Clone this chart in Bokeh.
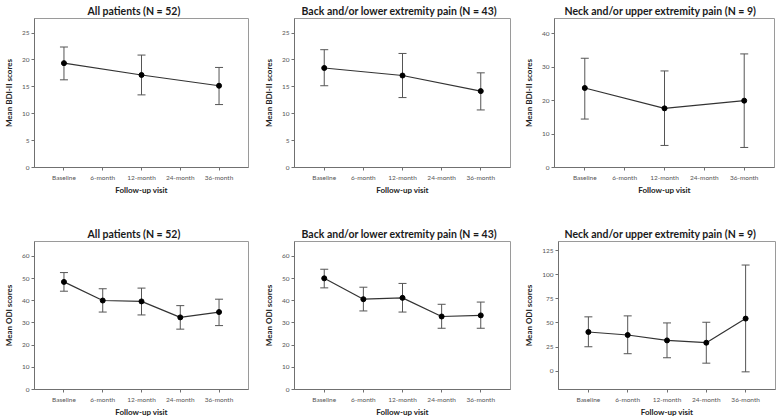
from bokeh.plotting import figure
from bokeh.models import ColumnDataSource, Whisker, TeeHead, FactorRange, Range1d, FixedTicker
from bokeh.layouts import row, column
from bokeh.embed import file_html
from bokeh.resources import INLINE

# ---------------- data ----------------
visits = ["Baseline", "6-month", "12-month", "24-month", "36-month"]
bdi_visits = ["Baseline", "12-month", "36-month"]
odi_visits = ["Baseline", "6-month", "12-month", "24-month", "36-month"]

bdi_all_mean = [19.4, 17.2, 15.2]
bdi_all_lower = [16.3, 13.5, 11.7]
bdi_all_upper = [22.4, 20.9, 18.6]

bdi_back_mean = [18.5, 17.1, 14.2]
bdi_back_lower = [15.2, 13.0, 10.7]
bdi_back_upper = [21.9, 21.2, 17.6]

bdi_neck_mean = [23.8, 17.7, 20.0]
bdi_neck_lower = [14.5, 6.6, 6.0]
bdi_neck_upper = [32.7, 28.9, 34.0]

odi_all_mean = [48.5, 40.1, 39.7, 32.5, 34.9]
odi_all_lower = [44.3, 34.9, 33.6, 27.2, 28.8]
odi_all_upper = [52.7, 45.4, 45.7, 37.8, 40.7]

odi_back_mean = [50.1, 40.7, 41.3, 32.9, 33.4]
odi_back_lower = [45.8, 35.4, 34.9, 27.6, 27.6]
odi_back_upper = [54.2, 46.1, 47.8, 38.4, 39.4]

odi_neck_mean = [40.6, 37.5, 31.9, 29.5, 54.5]
odi_neck_lower = [25.3, 18.1, 13.9, 8.3, -0.7]
odi_neck_upper = [56.3, 57.3, 50.0, 50.7, 110.0]

title_all = "All patients (N = 52)"
title_back = "Back and/or lower extremity pain (N = 43)"
title_neck = "Neck and/or upper extremity pain (N = 9)"
xlabel = "Follow-up visit"
ylabel_bdi = "Mean BDI-II scores"
ylabel_odi = "Mean ODI scores"

bdi_ticks_small = [0, 5, 10, 15, 20, 25]
bdi_ticks_neck = [0, 10, 20, 30, 40]
odi_ticks = [0, 10, 20, 30, 40, 50, 60]
odi_ticks_neck = [0, 25, 50, 75, 100, 125]

FONT = "Lato"


def make_panel(title, ylabel, xs, mean, lower, upper, yrange, ticks,
               w, h, bl, br, bt, bb, toff):
    p = figure(width=w, height=h,
               x_range=FactorRange(factors=visits, range_padding=0.26,
                                   range_padding_units="absolute"),
               y_range=Range1d(*yrange),
               output_backend="svg", toolbar_location=None,
               min_border_left=bl, min_border_right=br,
               min_border_top=bt, min_border_bottom=bb,
               title=title)
    p.background_fill_color = "white"
    p.border_fill_color = "white"
    p.outline_line_color = "#9a9a9a"
    p.outline_line_width = 1
    p.xgrid.visible = False
    p.ygrid.visible = False

    p.title.align = "left"
    p.title.offset = toff
    p.title.standoff = 3
    p.title.text_font = FONT
    p.title.text_font_size = "10.5px"
    p.title.text_font_style = "bold"
    p.title.text_color = "#1a1a1a"

    for ax in (p.xaxis[0], p.yaxis[0]):
        ax.axis_line_color = "#707070"
        ax.major_tick_line_color = "#707070"
        ax.major_tick_out = 3
        ax.major_tick_in = 0
        ax.minor_tick_line_color = None
        ax.major_label_text_font = FONT
        ax.major_label_text_font_size = "6.5px"
        ax.major_label_text_color = "#555555"
        ax.axis_label_text_font = FONT
        ax.axis_label_text_font_size = "8px"
        ax.axis_label_text_font_style = "bold"
        ax.axis_label_text_color = "#222222"
    p.xaxis.axis_label = xlabel
    p.xaxis.major_label_standoff = 3
    p.xaxis.axis_label_standoff = 1
    p.yaxis.axis_label = ylabel
    p.yaxis.major_label_standoff = 2
    p.yaxis.axis_label_standoff = 5
    p.yaxis.ticker = FixedTicker(ticks=ticks)

    src = ColumnDataSource(dict(x=xs, mean=mean, lower=lower, upper=upper))
    wh = Whisker(source=src, base="x", upper="upper", lower="lower",
                 dimension="height", line_color="#555555", line_width=1,
                 upper_head=TeeHead(size=8, line_color="#555555", line_width=1),
                 lower_head=TeeHead(size=8, line_color="#555555", line_width=1))
    p.add_layout(wh)
    p.line(x="x", y="mean", source=src, line_color="#333333", line_width=1.2)
    p.scatter(x="x", y="mean", source=src, size=5, color="black")
    return p


# layout geometry (page 780 x 419, no body margin in Bokeh's page template)
W = 260
H1, BT1, BB1 = 200, 18, 33
H2, BT2, BB2 = 219, 41, 29

p1 = make_panel(title_all, ylabel_bdi, bdi_visits, bdi_all_mean, bdi_all_lower,
                bdi_all_upper, (0, 27.7), bdi_ticks_small, W, H1, 28, 12, BT1, BB1, 53)
p2 = make_panel(title_back, ylabel_bdi, bdi_visits, bdi_back_mean, bdi_back_lower,
                bdi_back_upper, (0, 27.7), bdi_ticks_small, W, H1, 31, 10, BT1, BB1, 7)
p3 = make_panel(title_neck, ylabel_bdi, bdi_visits, bdi_neck_mean, bdi_neck_lower,
                bdi_neck_upper, (0, 44.6), bdi_ticks_neck, W, H1, 34, 6, BT1, BB1, 10)
p4 = make_panel(title_all, ylabel_odi, odi_visits, odi_all_mean, odi_all_lower,
                odi_all_upper, (0, 66.7), odi_ticks, W, H2, 28, 12, BT2, BB2, 53)
p5 = make_panel(title_back, ylabel_odi, odi_visits, odi_back_mean, odi_back_lower,
                odi_back_upper, (0, 66.7), odi_ticks, W, H2, 31, 10, BT2, BB2, 7)
p6 = make_panel(title_neck, ylabel_odi, odi_visits, odi_neck_mean, odi_neck_lower,
                odi_neck_upper, (-19, 134.4), odi_ticks_neck, W, H2, 38, 5, BT2, BB2, 6)

layout = column(row(p1, p2, p3), row(p4, p5, p6))

open("out.html", "w").write(file_html(layout, INLINE))
